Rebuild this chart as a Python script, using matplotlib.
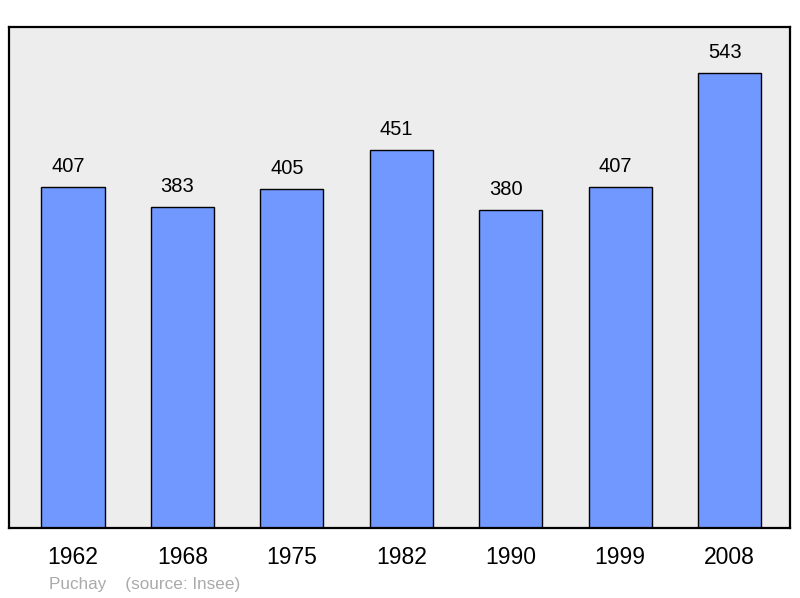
import matplotlib.pyplot as plt
import numpy as np

years = ["1962", "1968", "1975", "1982", "1990", "1999", "2008"]
population = [407, 383, 405, 451, 380, 407, 543]

fig = plt.figure(figsize=(8, 5.98), dpi=100)
ax = fig.add_axes([9 / 800, 70 / 598, 781 / 800, 501 / 598])
ax.set_facecolor("#ededed")

x = np.arange(len(years))
ax.bar(x, population, width=0.576, color="#7098ff", edgecolor="black", linewidth=1.0)

# the value labels sit a little left of the bar centre in the original
for xi, v in zip(x, population):
    ax.annotate(str(v), (xi, v), xytext=(-3.5, 8), textcoords="offset points",
                ha="center", va="bottom", fontsize=14.5, family="Liberation Sans")

ax.set_xlim(-0.585, 6.553)
ax.set_ylim(0, 598)
ax.set_yticks([])
ax.set_xticks(x)
ax.set_xticklabels(years, fontsize=16.5, family="Liberation Sans")
ax.tick_params(axis="x", length=0, pad=13)
for s in ax.spines.values():
    s.set_linewidth(1.6)
    s.set_color("black")

fig.text(49 / 800, 1 - 585 / 598, "Puchay    (source: Insee)", color="#aaaaaa",
         fontsize=12.3, family="Liberation Sans", va="center", ha="left")

fig.savefig("out.png", dpi=100)
